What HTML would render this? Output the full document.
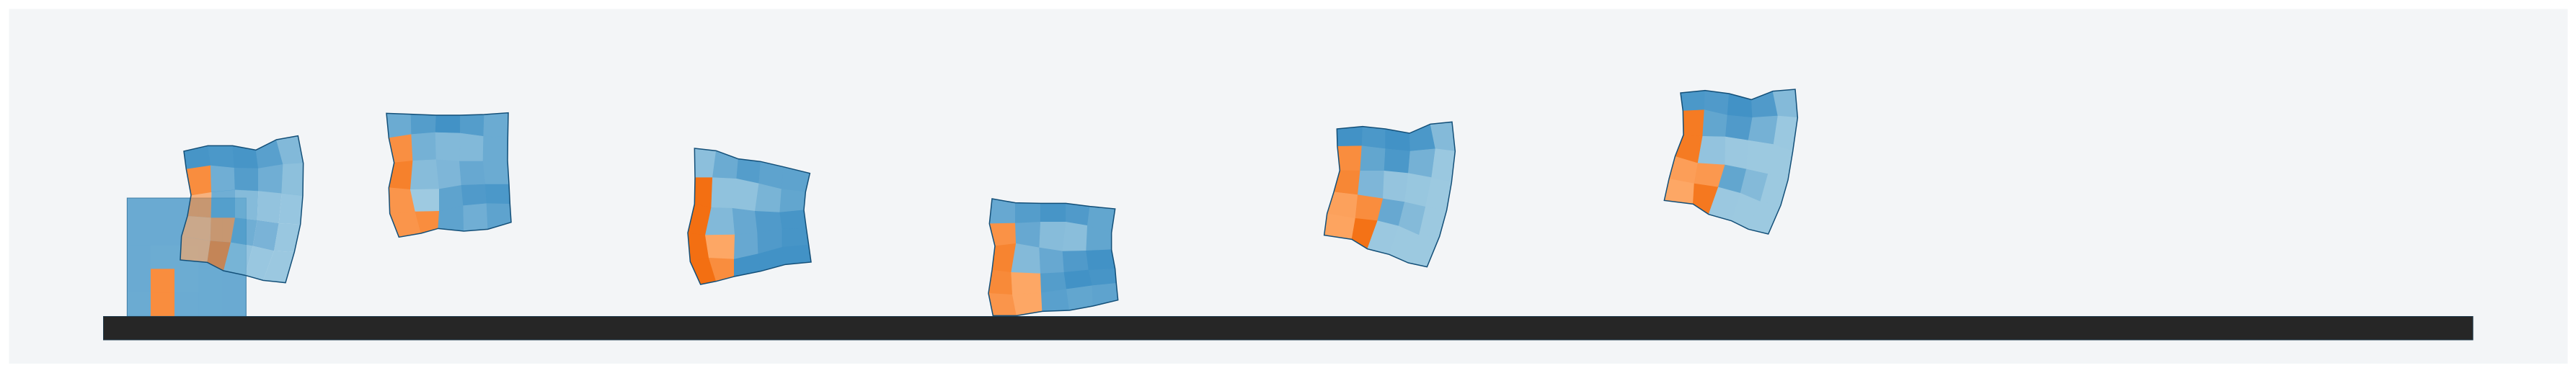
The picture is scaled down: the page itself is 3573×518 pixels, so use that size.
<!DOCTYPE html>
<html lang="en">
<head>
<meta charset="utf-8">
<title>Soft body motion sequence</title>
<style>
html,body{margin:0;padding:0;background:#ffffff;width:3573px;height:518px;overflow:hidden}
svg{display:block}
</style>
</head>
<body>
<svg id="scene" xmlns="http://www.w3.org/2000/svg" width="3573" height="518" viewBox="0 0 3573 518">
  <rect x="12.5" y="12.5" width="3549" height="492.5" fill="#f3f5f7"/>
  <g id="poses"></g>
  <rect x="143.5" y="439.5" width="3286.5" height="32.5" fill="#262626" stroke="#1f3a4c" stroke-width="1"/>
</svg>
<script>
// Data: each pose has an origin and a 6x6 mesh (columns of [u,v] nodes, unit = 1/3 scene pixel).
// Cell values: positive = passive (blue) shade 0..1, negative = active (orange) shade 0..1.
const poseOriginX = [0, 0, 500, 930, 1350, 1820, 2290];
const poseOriginY = [100, 100, 120, 180, 250, 150, 110];

const pose0Mesh = [
  [[529,525],[529,624],[529,722],[529,821],[529,919],[529,1018]],
  [[628,525],[628,624],[628,722],[628,821],[628,919],[628,1018]],
  [[727,525],[727,624],[727,722],[727,821],[727,919],[727,1018]],
  [[826,525],[826,624],[826,722],[826,821],[826,919],[826,1018]],
  [[925,525],[925,624],[925,722],[925,821],[925,919],[925,1018]],
  [[1024,525],[1024,624],[1024,722],[1024,821],[1024,919],[1024,1018]]
];
const pose1Mesh = [
  [[765,330],[775,405],[795,513],[780,600],[755,685],[750,783]],
  [[865,307],[877,390],[880,500],[878,607],[875,703],[862,793]],
  [[968,307],[975,400],[978,490],[978,607],[960,710],[930,828]],
  [[1065,325],[1075,402],[1075,495],[1070,617],[1052,725],[1020,847]],
  [[1150,282],[1178,385],[1172,505],[1160,630],[1140,745],[1095,868]],
  [[1240,266],[1262,380],[1260,515],[1250,635],[1225,750],[1188,878]]
];
const pose2Mesh = [
  [[108,112],[118,215],[140,318],[118,422],[122,530],[160,628]],
  [[210,116],[212,200],[218,310],[208,430],[228,522],[252,612]],
  [[315,120],[312,192],[315,305],[328,428],[328,520],[323,592]],
  [[415,120],[415,195],[412,312],[420,412],[428,497],[430,603]],
  [[515,117],[512,208],[510,312],[520,408],[525,488],[530,595]],
  [[615,110],[613,212],[612,310],[618,408],[622,490],[627,566]]
];
const pose3Mesh = [
  [[100,78],[102,200],[100,310],[72,430],[82,550],[125,645]],
  [[190,88],[175,200],[170,325],[145,440],[160,535],[190,632]],
  [[282,122],[275,205],[258,328],[268,438],[265,540],[265,612]],
  [[375,133],[368,225],[352,340],[362,430],[365,518],[375,590]],
  [[470,155],[462,248],[455,345],[465,415],[465,490],[478,562]],
  [[580,182],[562,260],[555,335],[565,410],[575,480],[585,552]]
];
const pose4Mesh = [
  [[78,78],[67,182],[90,275],[78,375],[63,472],[82,565]],
  [[175,95],[175,180],[178,265],[158,385],[163,478],[180,565]],
  [[280,97],[280,175],[275,282],[280,390],[283,470],[287,547]],
  [[385,97],[385,175],[372,297],[378,385],[388,455],[400,543]],
  [[485,110],[475,190],[470,295],[480,375],[495,440],[498,525]],
  [[590,120],[575,220],[575,290],[590,370],[595,430],[602,500]]
];
const pose5Mesh = [
  [[103,87],[105,160],[115,260],[90,350],[62,440],[50,530]],
  [[210,77],[207,158],[200,262],[190,362],[180,460],[165,547]],
  [[305,87],[305,170],[300,262],[295,378],[272,470],[230,587]],
  [[405,105],[408,180],[400,272],[385,392],[360,492],[320,610]],
  [[492,67],[513,170],[497,290],[472,412],[445,530],[400,645]],
  [[582,58],[595,180],[580,310],[560,425],[530,535],[478,662]]
];
const pose6Mesh = [
  [[123,57],[133,132],[135,232],[100,322],[75,415],[55,505]],
  [[225,47],[222,128],[215,238],[195,350],[180,435],[175,520]],
  [[325,60],[318,150],[310,240],[308,357],[280,450],[240,563]],
  [[418,85],[422,160],[405,255],[397,375],[372,475],[335,590]],
  [[507,50],[528,153],[510,272],[487,395],[455,510],[405,625]],
  [[600,42],[610,160],[590,300],[570,420],[540,525],[488,645]]
];

const pose0Values = [
  [.57,.57,.57,.57,.57],
  [.57,.57,.57,.57,.57],
  [.57,.54,.54,.57,.57],
  [.57,-.5,.54,.56,.57],
  [.55,-.5,.55,.56,.57]
];
const pose1Values = [
  [.95,.9,.95,.75,.3],
  [-.5,.5,.8,.5,.18],
  [-.5,.5,.28,.12,.08],
  [-.05,-.5,.5,.4,.06],
  [-.05,-.95,.12,.06,.03]
];
const pose2Values = [
  [.55,.8,1,.8,.55],
  [-.45,.45,.3,.3,.55],
  [-.7,.25,.35,.6,.55],
  [-.35,0,.7,.85,.9],
  [-.35,-.5,.7,.5,.7]
];
const pose3Values = [
  [.2,.55,.8,.7,.7],
  [-1,.15,.15,.4,.65],
  [-1,.3,.6,.85,.95],
  [-1,-.05,.6,.85,.95],
  [-1,-.5,1,1,1]
];
const pose4Values = [
  [.6,.8,.95,.85,.65],
  [-.4,.6,.25,.22,.65],
  [-.65,.28,.6,.85,1],
  [-.55,-.05,.8,1,.95],
  [-.35,-.05,.75,.65,.7]
];
const pose5Values = [
  [1,.9,1,.9,.28],
  [-.5,.65,.9,.45,.04],
  [-.6,.35,.1,.06,.02],
  [-.15,-.5,.6,.28,.02],
  [-.1,-.95,.03,.02,.02]
];
const pose6Values = [
  [.9,.85,1,.85,.28],
  [-.8,.65,.85,.45,.04],
  [-.8,.12,.03,.02,.02],
  [-.2,-.3,.65,.28,.02],
  [-.05,-.85,.03,.02,.02]
];
// Cell see-through for the pose that overlaps the initial block.
const pose1Alpha = [
  [1,1,1,1,1],
  [1,1,1,1,1],
  [.65,.8,.8,.8,.8],
  [.65,.65,.8,.8,.8],
  [.65,.65,.8,.8,.8]
];

const poseMeshes = [pose0Mesh, pose1Mesh, pose2Mesh, pose3Mesh, pose4Mesh, pose5Mesh, pose6Mesh];
const poseValues = [pose0Values, pose1Values, pose2Values, pose3Values, pose4Values, pose5Values, pose6Values];

const unitScale = 1 / 3;
function xAxis(pose, u) { return poseOriginX[pose] + u * unitScale; }
function yAxis(pose, v) { return poseOriginY[pose] + v * unitScale; }

const BG = [243, 245, 247];
const BLUE_LIGHT = [158, 202, 225], BLUE_DARK = [66, 146, 198];
const ORANGE_LIGHT = [254, 170, 105], ORANGE_DARK = [243, 111, 18];

function mix(a, b, t) {
  return [0, 1, 2].map(function (i) { return a[i] + (b[i] - a[i]) * t; });
}
function css(c) {
  return 'rgb(' + c.map(function (x) { return Math.max(0, Math.min(255, Math.round(x))); }).join(',') + ')';
}
function cellColor(value, alpha) {
  if (value < 0) return mix(ORANGE_LIGHT, ORANGE_DARK, -value);
  var c = mix(BLUE_LIGHT, BLUE_DARK, value);
  if (alpha < 1) {
    c = c.map(function (x, i) { return (x - (1 - alpha) * BG[i]) / alpha; });
  }
  return c;
}

const svgNS = 'http://www.w3.org/2000/svg';
const root = document.getElementById('poses');

poseMeshes.forEach(function (mesh, p) {
  var group = document.createElementNS(svgNS, 'g');
  
  
  root.appendChild(group);

  function pt(col, row) {
    return xAxis(p, mesh[col][row][0]).toFixed(2) + ',' + yAxis(p, mesh[col][row][1]).toFixed(2);
  }

  poseValues[p].forEach(function (rowValues, row) {
    rowValues.forEach(function (value, col) {
      var alpha = p === 1 ? pose1Alpha[row][col] : 1;
      var cell = document.createElementNS(svgNS, 'polygon');
      
      
      cell.setAttribute('points', [pt(col, row), pt(col + 1, row), pt(col + 1, row + 1), pt(col, row + 1)].join(' '));
      var fill = css(cellColor(value, alpha));
      cell.setAttribute('fill', fill);
      if (alpha < 1) {
        cell.setAttribute('fill-opacity', alpha);
      } else {
        cell.setAttribute('stroke', fill);
        cell.setAttribute('stroke-width', '0.6');
      }
      group.appendChild(cell);
    });
  });

  var n = mesh.length - 1, ring = [], i;
  for (i = 0; i <= n; i++) ring.push(pt(i, 0));
  for (i = 1; i <= n; i++) ring.push(pt(n, i));
  for (i = n - 1; i >= 0; i--) ring.push(pt(i, n));
  for (i = n - 1; i > 0; i--) ring.push(pt(0, i));

  var outline = document.createElementNS(svgNS, 'polygon');
  
  
  outline.setAttribute('points', ring.join(' '));
  outline.setAttribute('fill', 'none');
  outline.setAttribute('stroke', p === 0 ? '#2f6f99' : '#134f78');
  outline.setAttribute('stroke-width', p === 0 ? '1' : '1.5');
  outline.setAttribute('stroke-linejoin', 'miter');
  if (p === 0) {
    outline.setAttribute('stroke-opacity', '0.8');
  }
  group.appendChild(outline);
});
</script>
</body>
</html>
